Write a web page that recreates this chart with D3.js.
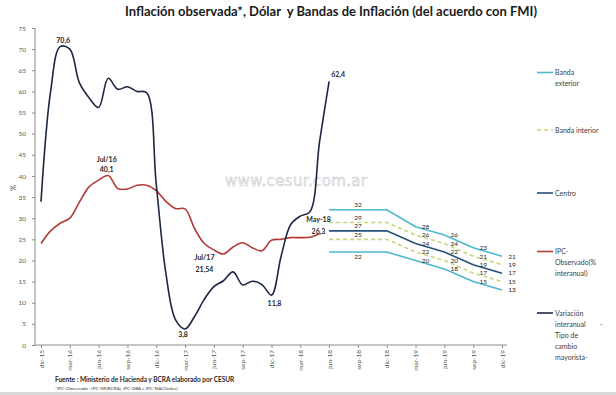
<!DOCTYPE html>
<html>
<head>
<meta charset="utf-8">
<script src="https://cdn.jsdelivr.net/npm/d3@7"></script>
<style>
  body { margin: 0; background: #fff; }
  svg { display: block; font-family: Lato, "Open Sans", sans-serif; }
</style>
</head>
<body>
<script>
// months on the category axis (dic-15 .. dic-19)
var months = ["dic-15","ene-16","feb-16","mar-16","abr-16","may-16","jun-16","jul-16","ago-16","sep-16","oct-16","nov-16",
  "dic-16","ene-17","feb-17","mar-17","abr-17","may-17","jun-17","jul-17","ago-17","sep-17","oct-17","nov-17",
  "dic-17","ene-18","feb-18","mar-18","abr-18","may-18","jun-18","jul-18","ago-18","sep-18","oct-18","nov-18",
  "dic-18","ene-19","feb-19","mar-19","abr-19","may-19","jun-19","jul-19","ago-19","sep-19","oct-19","nov-19","dic-19"];
var tickLabels = ["dic-15","mar-16","jun-16","sep-16","dic-16","mar-17","jun-17","sep-17","dic-17",
  "mar-18","jun-18","sep-18","dic-18","mar-19","jun-19","sep-19","dic-19"];
var yTicks = [0,5,10,15,20,25,30,35,40,45,50,55,60,65,70,75];

// variacion interanual tipo de cambio mayorista (dic-15 .. jun-18)
var tcValues = [33.9,60,70.6,70,62,58.5,56.2,63.1,60.5,61.1,60,59.7,
  38,17,6,3.8,6.8,10.8,13.8,15.2,17.3,14.2,15.1,14.3,
  11.8,21,28.5,30.5,31.5,48,62.4];
// IPC observado % interanual (dic-15 .. may-18)
var ipcValues = [24,27,28.8,30,33.8,37.4,39,40.1,37,36.9,37.8,37.8,
  36.5,34,32.3,32.2,27.5,24,22.5,21.54,23.2,24.2,23,22.3,
  24.8,25,25.4,25.4,25.5,26.3];

// bandas (acuerdo con FMI)
var bandDates = ["jun-18","sep-18","dic-18","mar-19","jun-19","sep-19","dic-19"];
var extSup = [32,32,32,28,26,23,21];
var intSup = [29,29,29,26,24,21,19];
var centro = [27,27,27,24,22,19,17];
var intInf = [25,25,25,22,20,17,15];
var extInf = [22,22,22,20,18,15,13];

// point labels
var tcLabels = [
  {month: "feb-16", text: ["70,6"]},
  {month: "mar-17", text: ["3,8"]},
  {month: "dic-17", text: ["11,8"]},
  {month: "jun-18", text: ["62,4"]}
];
var ipcLabels = [
  {month: "jul-16", text: ["Jul/16", "40,1"]},
  {month: "jul-17", text: ["Jul/17", "21,54"]},
  {month: "may-18", text: ["May-18", "26,3"]}
];

var legendItems = [
  {name: ["Banda", "exterior"]},
  {name: ["Banda interior"]},
  {name: ["Centro"]},
  {name: ["IPC-", "Observado(%", "interanual)"]},
  {name: ["Variación", "interanual", "Tipo de", "cambio", "mayorista-"]}
];

var width = 616, height = 395;
var cTC = "#1c2840", cIPC = "#b23a37", cExt = "#4bb8cf", cInt = "#c9d67a", cCentro = "#24507a";

var svg = d3.select("body").append("svg")
  .attr("width", width)
  .attr("height", height);

svg.append("rect").attr("x", 0).attr("y", 392).attr("width", width).attr("height", 3).attr("fill", "#d9d9d9");

var x = d3.scalePoint().domain(months).range([41, 502]);
var y = d3.scaleLinear().domain([0, 75]).range([345, 28]);

// title
svg.append("text")
  .attr("x", 331).attr("y", 16)
  .attr("text-anchor", "middle")
  .attr("font-size", 13.5)
  .attr("font-weight", "bold")
  .attr("fill", "#1a1a1a")
  .attr("textLength", 412)
  .attr("lengthAdjust", "spacingAndGlyphs")
  .style("white-space", "pre")
  .text("Inflación observada*, Dólar  y Bandas de Inflación (del acuerdo con FMI)");

// watermark
svg.append("text")
  .attr("x", 225).attr("y", 186)
  .attr("font-family", "DejaVu Sans, sans-serif")
  .attr("font-size", 15)
  .attr("textLength", 142)
  .attr("lengthAdjust", "spacing")
  .attr("fill", "#f4f4f4")
  .attr("stroke", "#c4c4c4")
  .attr("stroke-width", 0.45)
  .text("www.cesur.com.ar");

// axes
var yAxis = svg.append("g")
  .attr("transform", "translate(35,0)")
  .call(d3.axisLeft(y).tickValues(yTicks).tickSize(3).tickPadding(6));
var xAxis = svg.append("g")
  .attr("transform", "translate(0,345)")
  .call(d3.axisBottom(x).tickValues(tickLabels).tickSize(3).tickSizeOuter(0));
xAxis.select(".domain").attr("d", "M35,0H507");
yAxis.select(".domain").attr("d", "M0,345V28");
svg.selectAll(".domain").attr("stroke", "#8c8c8c");
svg.selectAll(".tick line").attr("stroke", "#8c8c8c");
yAxis.selectAll("text").attr("font-size", 6.5).attr("fill", "#595959").attr("font-family", "Lato, sans-serif");
xAxis.selectAll("text")
  .attr("font-size", 6.5).attr("fill", "#595959").attr("font-family", "Lato, sans-serif")
  .attr("text-anchor", "end")
  .attr("transform", "rotate(-90)")
  .attr("x", -5).attr("y", 0).attr("dy", "0.32em");

svg.append("text")
  .attr("transform", "translate(16,188) rotate(-90)")
  .attr("text-anchor", "middle")
  .attr("font-size", 7.5)
  .attr("fill", "#404040")
  .text("%");

// lines
var smooth = d3.line()
  .x(function(d) { return x(d.m); })
  .y(function(d) { return y(d.v); })
  .curve(d3.curveCatmullRom.alpha(0.5));
var straight = d3.line()
  .x(function(d) { return x(d.m); })
  .y(function(d) { return y(d.v); });

function pairs(values) {
  return values.map(function(v, i) { return {m: months[i], v: v}; });
}
function bandPairs(values) {
  return values.map(function(v, i) { return {m: bandDates[i], v: v}; });
}

var bands = [
  {vals: extSup, color: cExt, dash: null, below: false},
  {vals: intSup, color: cInt, dash: "4,3", below: false},
  {vals: centro, color: cCentro, dash: null, below: false},
  {vals: intInf, color: cInt, dash: "4,3", below: false},
  {vals: extInf, color: cExt, dash: null, below: true}
];

bands.forEach(function(b) {
  svg.append("path")
    .attr("d", straight(bandPairs(b.vals)))
    .attr("fill", "none")
    .attr("stroke", b.color)
    .attr("stroke-width", 1.6)
    .attr("stroke-dasharray", b.dash);
  var g = svg.append("g").attr("font-size", 6.5).attr("fill", "#262626");
  bandPairs(b.vals).forEach(function(d, i) {
    if (i === 0 || i === 2) return;
    if (i === 1) {
      g.append("text")
        .attr("x", x(d.m)).attr("y", y(d.v) + (b.below ? 7 : -2.5))
        .attr("text-anchor", "middle")
        .text(d.v);
    } else {
      g.append("text")
        .attr("x", x(d.m) + 10).attr("y", y(d.v) + 2.3)
        .attr("text-anchor", "middle")
        .text(d.v);
    }
  });
});

svg.append("path")
  .attr("d", smooth(pairs(ipcValues)))
  .attr("fill", "none")
  .attr("stroke", cIPC)
  .attr("stroke-width", 1.6);

svg.append("path")
  .attr("d", smooth(pairs(tcValues)))
  .attr("fill", "none")
  .attr("stroke", cTC)
  .attr("stroke-width", 1.6);

// point labels: [dx, dy of first line, line spacing]
var tcPlace = {"feb-16": [3, -4, 0], "mar-17": [-2, 8.5, 0], "dic-17": [3, 10.5, 0], "jun-18": [9, -4, 0]};
var ipcPlace = {"jul-16": [-1.5, -14, 10], "jul-17": [-19, 6.5, 12], "may-18": [-1, -12, 12]};

function drawLabels(list, values, place) {
  list.forEach(function(l) {
    var i = months.indexOf(l.month);
    var p = place[l.month];
    var t = svg.append("text")
      .attr("text-anchor", "middle")
      .attr("font-size", 7)
      .attr("font-weight", "bold")
      .attr("fill", "#262626");
    l.text.forEach(function(s, k) {
      t.append("tspan")
        .attr("x", x(l.month) + p[0])
        .attr("y", y(values[i]) + p[1] + k * p[2])
        .text(s);
    });
  });
}
drawLabels(tcLabels, tcValues, tcPlace);
drawLabels(ipcLabels, ipcValues, ipcPlace);

// legend
var legendStyle = [
  {color: cExt, dash: null, y: 72.5},
  {color: cInt, dash: "4,3", y: 130},
  {color: cCentro, dash: null, y: 193},
  {color: cIPC, dash: null, y: 251.5},
  {color: cTC, dash: null, y: 313}
];
var legend = svg.append("g").attr("font-size", 7).attr("fill", "#404040");
legendItems.forEach(function(item, i) {
  var st = legendStyle[i];
  legend.append("line")
    .attr("x1", 537).attr("x2", 553)
    .attr("y1", st.y).attr("y2", st.y)
    .attr("stroke", st.color)
    .attr("stroke-width", 1.6)
    .attr("stroke-dasharray", st.dash);
  item.name.forEach(function(s, k) {
    legend.append("text")
      .attr("x", 555).attr("y", st.y + 2.5 + k * 11)
      .text(s);
  });
});
legend.append("text").attr("x", 600).attr("y", 313 + 2.5 + 11).text("-");

// source
svg.append("text")
  .attr("x", 55).attr("y", 382)
  .attr("font-size", 6.5)
  .attr("font-weight", "bold")
  .attr("fill", "#262626")
  .text("Fuente : Ministerio de Hacienda y BCRA elaborado por CESUR");
svg.append("text")
  .attr("x", 55).attr("y", 389.5)
  .attr("font-size", 4.6)
  .attr("fill", "#404040")
  .text("*IPC-Observado : IPC-NF(BCRA), IPC-GBA e IPC-NAC(Indec)");
</script>
</body>
</html>
